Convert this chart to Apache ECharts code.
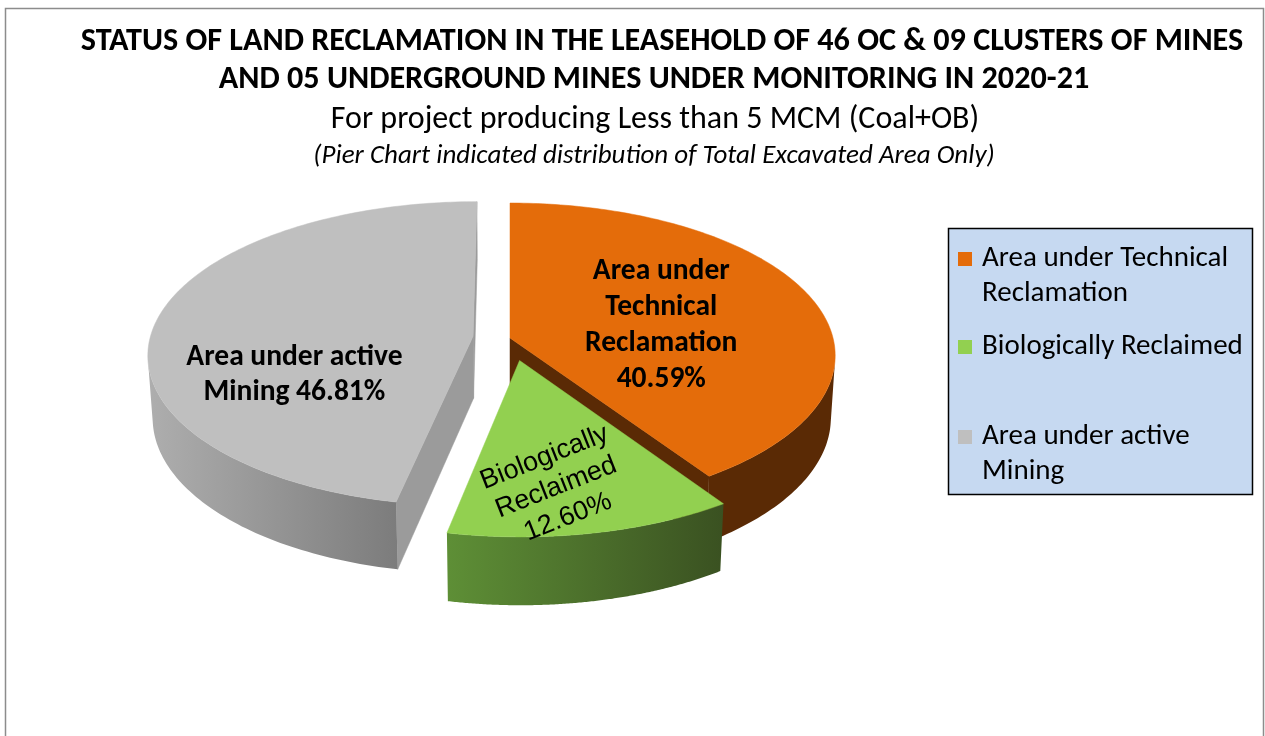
<!DOCTYPE html>
<html>
<head>
<meta charset="utf-8">
<script src="https://cdn.jsdelivr.net/npm/echarts@6/dist/echarts.min.js"></script>
<style>
html,body{margin:0;padding:0;background:#fff;}
#chart{width:1265px;height:736px;}
</style>
</head>
<body>
<div id="chart"></div>
<script>
// ---- data ----
const categories = ['Area under Technical Reclamation', 'Biologically Reclaimed', 'Area under active Mining'];
const values = [40.59, 12.60, 46.81];
const legendLabels = ['Area under Technical\nReclamation', 'Biologically Reclaimed', 'Area under active\nMining'];
const sliceLabels = ['Area under\nTechnical\nReclamation', 'Biologically\nReclaimed', 'Area under active\nMining'];
const sliceLabelSep = ['\n', '\n', ' '];
const titleLines = ['STATUS OF LAND RECLAMATION IN THE LEASEHOLD OF 46 OC & 09 CLUSTERS OF MINES',
                    'AND 05 UNDERGROUND MINES UNDER MONITORING IN 2020-21'];
const subtitle = 'For project producing Less than 5 MCM (Coal+OB)';
const note = '(Pier Chart indicated distribution of Total Excavated Area Only)';

// ---- style ----
const topColors = ['#E46C0A', '#92D050', '#BFBFBF'];
const wallColors = [['#5A2A05', '#5A2A05'], ['#5E8F36', '#3A5121'], ['#AEAEAE', '#7C7C7C']];
const cutColors = ['#5A2A05', '#4B6F2A', '#9B9B9B'];
const explode = [0, 0.15, 0.115];
const labelAnchor = [[80, 0.48], [172.4, 0.75], [245, 0.59]];
const labelFont = ['bold 29.5px Carlito, Lato, sans-serif', '27px "Liberation Sans", Arial, sans-serif', 'bold 29.5px Carlito, Lato, sans-serif'];
const labelLineH = [36, 32, 35];
const labelRot = [0, 21.5, 0];
const drawOrder = [0, 2, 1];
const legendTops = [244.5, 332.5, 422.5];
const FONT = 'Carlito, Lato, sans-serif';

// ---- 3D projection ----
const CX = 510, CY = 338, D = 7.69, F = 2484, T = 0.22;
const ALPHA = 27.77 * Math.PI / 180, SA = Math.sin(ALPHA), CA = Math.cos(ALPHA);
const CAM = [0, D * SA, -D * CA];
function proj(X, Y, Z) {
  const yc = Y * CA + Z * SA;
  const dp = D + Z * CA - Y * SA;
  return [CX + F * X / dp, CY - F * yc / dp];
}
function visible(P, nX, nY, nZ) {
  return (CAM[0] - P[0]) * nX + (CAM[1] - P[1]) * nY + (CAM[2] - P[2]) * nZ > 0;
}
const total = values.reduce((a, b) => a + b, 0);

function makeRender(i) {
  return function (params, api) {
    const v = api.value(0);
    let before = 0;
    for (let k = 0; k < i; k++) before += values[k];
    const s = before / total * 2 * Math.PI;
    const e = s + v / total * 2 * Math.PI;
    const mid = (s + e) / 2;
    const ox = explode[i] * Math.sin(mid), oz = explode[i] * Math.cos(mid);
    const pt = (th, r, Y) => proj(ox + r * Math.sin(th), Y, oz + r * Math.cos(th));
    const children = [];
    const faces = [[s, -Math.cos(s), Math.sin(s)], [e, Math.cos(e), -Math.sin(e)]];
    faces.forEach(f => {
      const th = f[0];
      const P = [ox + 0.5 * Math.sin(th), -T / 2, oz + 0.5 * Math.cos(th)];
      if (visible(P, f[1], 0, f[2])) {
        children.push({type: 'polygon', shape: {points: [pt(th, 0, 0), pt(th, 1, 0), pt(th, 1, -T), pt(th, 0, -T)]},
          style: {fill: cutColors[i], stroke: cutColors[i], lineWidth: 0.5}});
      }
    });
    const N = 160, topPts = [], botPts = [];
    for (let k = 0; k <= N; k++) {
      const th = s + (e - s) * k / N;
      const P = [ox + Math.sin(th), -T / 2, oz + Math.cos(th)];
      if (visible(P, Math.sin(th), 0, Math.cos(th))) {
        topPts.push(pt(th, 1, 0));
        botPts.push(pt(th, 1, -T));
      }
    }
    if (topPts.length > 1) {
      children.push({type: 'polygon', shape: {points: topPts.concat(botPts.reverse())},
        style: {fill: {type: 'linear', x: 0, y: 0, x2: 1, y2: 0,
          colorStops: [{offset: 0, color: wallColors[i][0]}, {offset: 1, color: wallColors[i][1]}]},
          stroke: null}});
    }
    const face = [pt(s, 0, 0)];
    for (let k = 0; k <= N; k++) face.push(pt(s + (e - s) * k / N, 1, 0));
    children.push({type: 'polygon', shape: {points: face}, style: {fill: topColors[i], stroke: topColors[i], lineWidth: 0.5}});
    const la = labelAnchor[i][0] * Math.PI / 180, lr = labelAnchor[i][1];
    const lp = pt(la, lr, 0);
    children.push({type: 'text', x: lp[0], y: lp[1], rotation: labelRot[i] * Math.PI / 180, z2: 10,
      style: {text: sliceLabels[i] + sliceLabelSep[i] + v.toFixed(2) + '%', fill: '#000', font: labelFont[i],
        align: 'center', verticalAlign: 'middle', lineHeight: labelLineH[i]}});
    return {type: 'group', children: children};
  };
}

const rich = {
  gap: {width: 10, lineHeight: 35},
  pad: {width: 24, lineHeight: 35},
  t: {fontSize: 29, fontFamily: FONT, color: '#000', lineHeight: 35}
};
topColors.forEach((c, i) => { rich['m' + i] = {width: 14, height: 14, backgroundColor: c, verticalAlign: 'middle', lineHeight: 35}; });

const option = {
  animation: false,
  backgroundColor: '#fff',
  title: [
    {text: titleLines[0], left: 662, textAlign: 'center', top: 23, padding: 0,
     textStyle: {fontFamily: FONT, fontWeight: 'bold', fontSize: 32.2, lineHeight: 38, color: '#000'}},
    {text: titleLines[1], left: 654, textAlign: 'center', top: 61, padding: 0,
     textStyle: {fontFamily: FONT, fontWeight: 'bold', fontSize: 32.2, lineHeight: 38, color: '#000'}},
    {text: subtitle, left: 655, textAlign: 'center', top: 103, padding: 0,
     textStyle: {fontFamily: FONT, fontWeight: 'normal', fontSize: 32, lineHeight: 34, color: '#000'}},
    {text: note, left: 654, textAlign: 'center', top: 142, padding: 0,
     textStyle: {fontFamily: FONT, fontWeight: 'normal', fontStyle: 'italic', fontSize: 27, lineHeight: 28, color: '#000'}}
  ],
  legend: categories.map((name, i) => ({
    orient: 'vertical', left: 953, top: legendTops[i], icon: 'none', itemWidth: 0, itemHeight: 14,
    selectedMode: false, padding: 0,
    data: [name],
    formatter: function (n) {
      const idx = categories.indexOf(n);
      return legendLabels[idx].split('\n').map((l, k) =>
        (k === 0 ? '{m' + idx + '|}{gap|}' : '{pad|}') + '{t|' + l + '}').join('\n');
    },
    textStyle: {rich: rich}
  })),
  graphic: [
    {type: 'rect', shape: {x: 5.5, y: 8.5, width: 1258, height: 800}, style: {fill: 'none', stroke: '#8C8C8C', lineWidth: 1.5}, silent: true},
    {type: 'rect', shape: {x: 948.5, y: 228.5, width: 304, height: 266}, style: {fill: '#C6D9F1', stroke: '#000', lineWidth: 1.5}, silent: true, z: -1}
  ],
  series: drawOrder.map(i => ({
    type: 'custom', name: categories[i], coordinateSystem: 'none', silent: true,
    itemStyle: {color: topColors[i]},
    data: [values[i]],
    renderItem: makeRender(i)
  }))
};
const chart = echarts.init(document.getElementById('chart'));
chart.setOption(option);
</script>
</body>
</html>
